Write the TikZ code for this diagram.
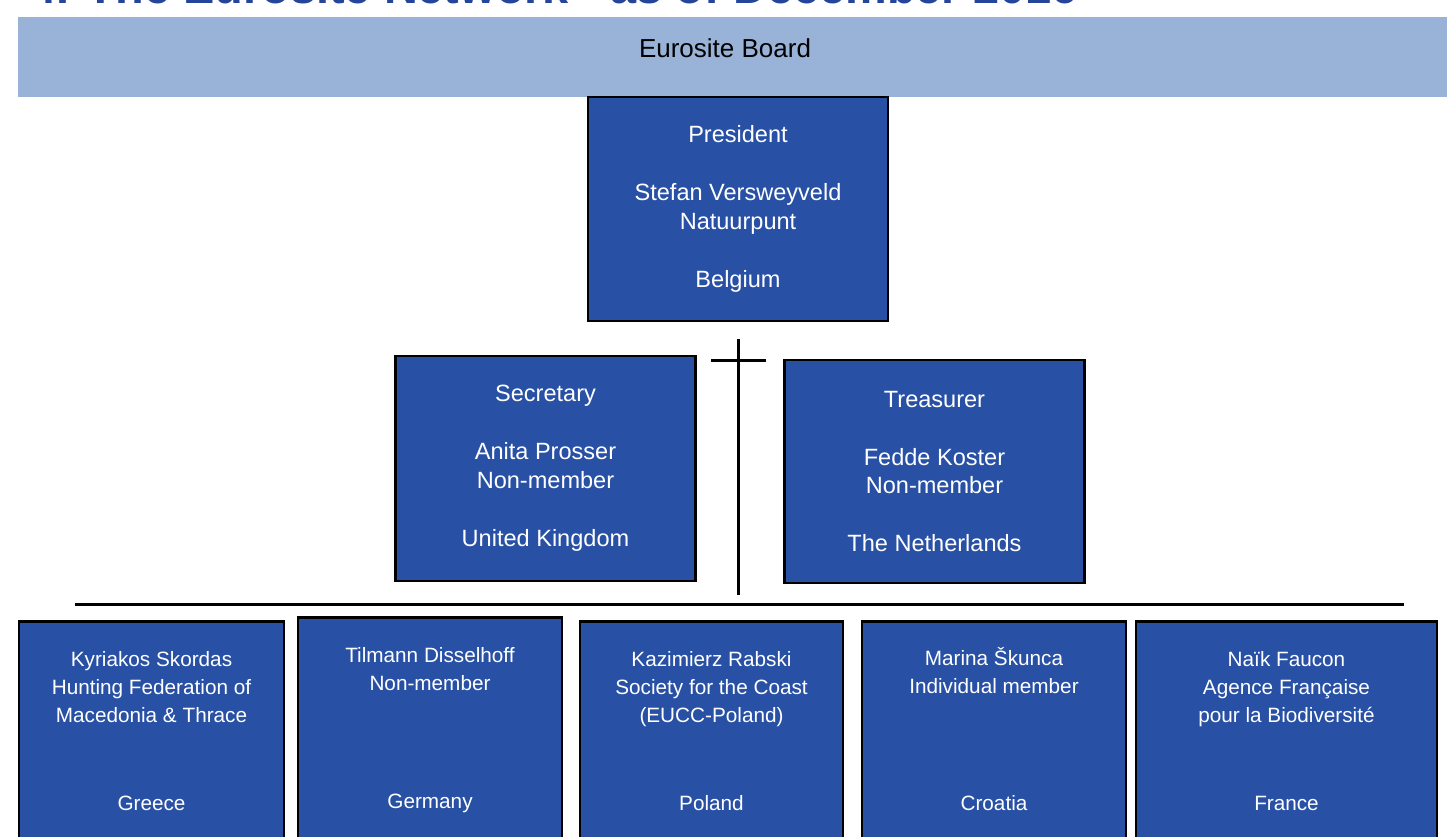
\documentclass[tikz,border=0pt]{standalone}
\usepackage{fontspec}
\setmainfont{Liberation Sans}
\usetikzlibrary{positioning, calc}
\definecolor{bandblue}{HTML}{99B3D8}
\definecolor{boxblue}{HTML}{2850A4}
\definecolor{titleblue}{HTML}{25459B}
\tikzset{
    member/.style={draw=black, line width=1.6pt, fill=boxblue, text=white, align=center, inner sep=0pt},
    officer/.style={member, minimum width=6cm, minimum height=4.48cm, font=\fontsize{13.4}{16.5}\selectfont},
    delegate/.style={member, anchor=north, minimum height=4.8cm},
    memtext/.style={text=white, align=center, inner sep=0pt, font=\fontsize{11.8}{15.9}\selectfont},
    rule/.style={line width=1.7pt},
}

\begin{document}
\begin{tikzpicture}[x=0.02cm, y=-0.02cm]
    \clip (0,0) rectangle (1447,836);

    \node[anchor=base west, inner sep=0pt, text=titleblue, font=\fontsize{26.7}{30}\selectfont\bfseries] (title) at (30,3)
      {4. The Eurosite Network - as of December 2016};

    \node[fill=bandblue, minimum width=28.58cm, minimum height=1.6cm, inner sep=0pt] (board) at (732.5,57) {};
    \node[inner sep=0pt, font=\fontsize{14.8}{18}\selectfont] (boardname) at (725,48) {Eurosite Board};

    % officers
    \node[officer] (president) at (738,209)
      {President\\[16.5pt]Stefan Versweyveld\\Natuurpunt\\[16.5pt]Belgium};
    \node[officer, minimum height=4.5cm] (secretary) at (545.5,468.5)
      {Secretary\\[16.5pt]Anita Prosser\\Non-member\\[16.5pt]United Kingdom};
    \node[officer, minimum height=4.46cm] (treasurer) at (934.5,471.5)
      {Treasurer\\[16.5pt]Fedde Koster\\Non-member\\[16.5pt]The Netherlands};

    \coordinate (spinetop) at ($(president.south)+(0,17)$);
    \coordinate (spinebot) at (738,595);
    \coordinate (armleft) at (711,360);
    \coordinate (armright) at (766,360);
    \coordinate (railleft) at (75,604);
    \coordinate (railright) at (1404,604);

    \draw[rule] (spinetop) -- (spinebot);
    \draw[rule] (armleft) -- (armright);
    \draw[rule] (railleft) -- (railright);

    % members
    \node[delegate, minimum width=5.3cm] (greecebox) at (151.5,620) {};
    \node[delegate, minimum width=5.28cm] (germanybox) at (430,616) {};
    \node[delegate, minimum width=5.26cm] (polandbox) at (711.5,620) {};
    \node[delegate, minimum width=5.28cm] (croatiabox) at (994,620) {};
    \node[delegate, minimum width=6.02cm] (francebox) at (1286.5,620) {};

    \node[memtext, anchor=north] (skordas) at ($(greecebox.north)+(0,31)$)
      {Kyriakos Skordas\\Hunting Federation of\\Macedonia \& Thrace};
    \node[memtext, anchor=north] (disselhoff) at ($(germanybox.north)+(0,31)$)
      {Tilmann Disselhoff\\Non-member};
    \node[memtext, anchor=north] (rabski) at ($(polandbox.north)+(0,31)$)
      {Kazimierz Rabski\\Society for the Coast\\(EUCC-Poland)};
    \node[memtext, anchor=north] (skunca) at ($(croatiabox.north)+(0,27)$)
      {Marina Škunca\\Individual member};
    \node[memtext, anchor=north] (faucon) at ($(francebox.north)+(0,31)$)
      {Naïk Faucon\\Agence Française\\pour la Biodiversité};

    \node[memtext, anchor=base] (greece) at ($(greecebox.north)+(0,190)$) {Greece};
    \node[memtext, anchor=base] (germany) at ($(germanybox.north)+(0,192)$) {Germany};
    \node[memtext, anchor=base] (poland) at ($(polandbox.north)+(0,190)$) {Poland};
    \node[memtext, anchor=base] (croatia) at ($(croatiabox.north)+(0,190)$) {Croatia};
    \node[memtext, anchor=base] (france) at ($(francebox.north)+(0,190)$) {France};
\end{tikzpicture}
\end{document}
